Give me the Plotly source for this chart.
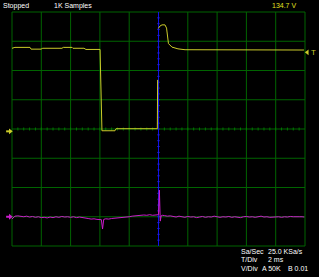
import plotly.graph_objects as go

# ---- data (time in ms, 2 ms/div, trigger at 0; vertical in divisions) ----
ch_a_t = [-10.0, -9.8, -8.77, -8.7, -8.02, -7.9, -6.59, -6.5, -5.9, -5.84, -5.09, -4.95,
          -3.99, -3.92, -3.86, -2.97, -2.9, -0.08, -0.06, None,
          -0.01, 0.1, 0.24, 0.44, 0.55, 0.61, 0.68, 0.92, 1.33, 1.81, 9.93]
ch_a_v = [2.76, 2.79, 2.79, 2.73, 2.73, 2.76, 2.76, 2.79, 2.79, 2.76, 2.76, 2.72,
          2.72, 1.33, -0.06, -0.06, 0.01, 0.01, 1.68, None,
          3.44, 3.52, 3.56, 3.56, 3.45, 3.10, 2.92, 2.80, 2.74, 2.71, 2.70]

ch_b_t = [-10.0, -9.8, -9.6, -9.4, -9.2, -9.0, -8.8, -8.6, -8.4, -8.2, -8.0, -7.8, -7.6,
          -7.4, -7.2, -7.0, -6.8, -6.6, -6.4, -6.2, -6.0, -5.8, -5.6, -5.4, -5.2, -5.0,
          -4.8, -4.6, -4.4, -4.2, -4.0, -3.9, -3.82, -3.74, -3.6, -3.4, -3.2, -3.0, -2.8,
          -2.6, -2.4, -2.2, -2.0, -1.8, -1.6, -1.4, -1.2, -1.0, -0.8, -0.6, -0.4, -0.2,
          0.0, 0.06, 0.12, 0.18, 0.26, 0.4, 0.6, 0.8, 1.0, 1.2, 1.4, 1.6, 1.8, 2.0, 2.2,
          2.4, 2.6, 2.8, 3.0, 3.2, 3.4, 3.6, 3.8, 4.0, 4.2, 4.4, 4.6, 4.8, 5.0, 5.2, 5.4,
          5.6, 5.8, 6.0, 6.2, 6.4, 6.6, 6.8, 7.0, 7.2, 7.4, 7.6, 7.8, 8.0, 8.2, 8.4, 8.6,
          8.8, 9.0, 9.2, 9.4, 9.6, 9.8, 9.95]
ch_b_v = [-3.08, -2.98, -2.97, -2.99, -3.0, -2.98, -3.01, -2.99, -3.02, -3.0, -3.03,
          -3.02, -3.04, -3.01, -3.03, -3.0, -3.02, -2.99, -3.01, -3.0, -3.02, -3.0, -3.03,
          -3.01, -3.02, -3.05, -3.06, -3.08, -3.07, -3.09, -3.08, -3.10, -3.42, -3.09,
          -3.07, -3.08, -3.06, -3.05, -3.06, -3.03, -3.02, -3.01, -3.0, -2.98, -2.97,
          -2.95, -2.96, -2.94, -2.95, -2.93, -2.95, -2.94,
          -2.93, -2.09, -3.15, -2.97, -2.95, -2.96, -2.98, -2.97, -2.99, -3.01, -2.98,
          -3.0, -3.02, -2.99, -3.01, -3.0, -3.03, -3.01, -2.99, -3.02, -3.0, -3.01,
          -2.98, -3.0, -3.02, -3.0, -3.01, -2.99, -3.02, -3.0, -3.01, -3.03, -3.0, -2.99,
          -3.01, -3.0, -3.02, -3.0, -2.98, -3.01, -3.0, -3.02, -3.01, -2.99, -3.0, -3.02,
          -3.0, -3.01, -2.99, -3.0, -3.01, -3.0, -3.0, -3.01]

top_labels = ["Stopped", "1K Samples"]
level_label = "134.7 V"
info_rows = [("Sa/Sec", "25.0 KSa/s"), ("T/Div", "2 ms"), ("V/Div", "A 50K    B 0.01")]

# ---- styling / geometry ----
W, H = 319, 277
X0, DX = 12.0, 29.3      # px of grid left edge, px per division (x)
YC, DY = 129.0, 29.25    # px of grid center, px per division (y)
GRID = "#006400"
YEL = "#cccc2a"
MAG = "#cc1ccc"
BLUE = "#1010e8"
FONT = "Liberation Sans"


def t2div(t):
    return None if t is None else t / 2.0 + 5.0


fig = go.Figure()

# grid
shapes = []
for i in range(11):
    shapes.append(dict(type="line", x0=i, x1=i, y0=-4, y1=4,
                       line=dict(color=GRID, width=1), layer="below"))
for j in range(-4, 5):
    shapes.append(dict(type="line", x0=0, x1=10, y0=j, y1=j,
                       line=dict(color=GRID, width=1), layer="below"))
fig.update_layout(shapes=shapes)

# ticks on centre horizontal line
tx, ty = [], []
for k in range(1, 50):
    x = k * 0.2
    tx += [x, x, None]
    ty += [-0.05, 0.05, None]
fig.add_trace(go.Scatter(x=tx, y=ty, mode="lines", line=dict(color="#007800", width=1),
                         hoverinfo="skip"))

# blue trigger line with ticks
fig.add_trace(go.Scatter(x=[5, 5], y=[-4, 4], mode="lines", line=dict(color=BLUE, width=1),
                         hoverinfo="skip"))
bx, by = [], []
for k in range(-19, 20):
    y = k * 0.2
    bx += [4.96, 5.04, None]
    by += [y, y, None]
fig.add_trace(go.Scatter(x=bx, y=by, mode="lines", line=dict(color="#2020e0", width=1),
                         hoverinfo="skip"))

# channel traces
fig.add_trace(go.Scatter(x=[t2div(t) for t in ch_b_t], y=ch_b_v, mode="lines",
                         line=dict(color=MAG, width=1), hoverinfo="skip"))
fig.add_trace(go.Scatter(x=[t2div(t) for t in ch_a_t], y=ch_a_v, mode="lines",
                         line=dict(color=YEL, width=1), connectgaps=False, hoverinfo="skip"))

# left markers
for yv, col in [(-0.08, YEL), (-3.0, MAG)]:
    fig.add_trace(go.Scatter(x=[-0.2, -0.06], y=[yv, yv], mode="lines",
                             line=dict(color=col, width=2), hoverinfo="skip"))
    fig.add_trace(go.Scatter(x=[-0.06], y=[yv], mode="markers",
                             marker=dict(symbol="triangle-right", size=5, color=col),
                             hoverinfo="skip"))
# right trigger marker
fig.add_trace(go.Scatter(x=[10.08], y=[2.62], mode="markers",
                         marker=dict(symbol="triangle-left", size=5, color=YEL), hoverinfo="skip"))
fig.add_annotation(x=(313 - X0) / DX, y=2.62, xref="x", yref="y", text="T", showarrow=False,
                   font=dict(family=FONT, size=8, color=YEL))

# texts
def px_ann(px, py, text, color="#ffffff", anchor="left", size=7):
    fig.add_annotation(x=px / W, y=1 - py / H, xref="paper", yref="paper", text=text,
                       showarrow=False, xanchor=anchor, yanchor="middle",
                       font=dict(family=FONT, size=size, color=color))

px_ann(1, 6, top_labels[0])
px_ann(52, 6, top_labels[1])
px_ann(298, 6, level_label, color="#e0e020", anchor="right")
rows_y = [251, 259.5, 268]
for (lab, val), yy in zip(info_rows, rows_y):
    px_ann(239, yy, lab)
    if lab == "V/Div":
        px_ann(260, yy, "A 50K")
        px_ann(286, yy, "B 0.01")
    else:
        px_ann(266, yy, val)

fig.update_layout(
    width=W, height=H, margin=dict(l=0, r=0, t=0, b=0),
    paper_bgcolor="black", plot_bgcolor="black", showlegend=False,
    xaxis=dict(range=[-X0 / DX, (W - X0) / DX], visible=False, fixedrange=True),
    yaxis=dict(range=[(YC - H) / DY, YC / DY], visible=False, fixedrange=True),
)

fig.write_html("out.html")
